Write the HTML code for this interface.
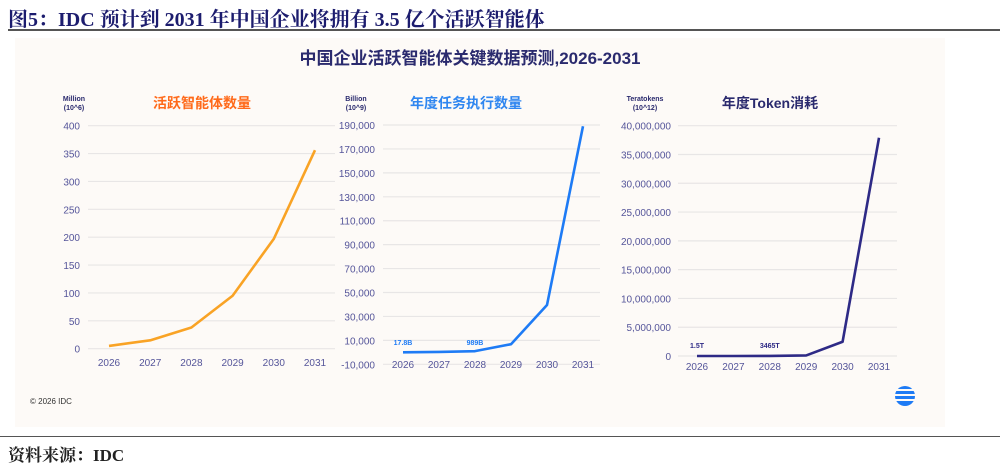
<!DOCTYPE html>
<html><head><meta charset="utf-8"><style>
body{margin:0;width:1000px;height:463px;background:#fff;overflow:hidden;position:relative;font-family:"Liberation Sans","Noto Sans CJK SC",sans-serif}
</style></head><body>
<div style="position:absolute;left:8px;top:3px;font:bold 20px 'Liberation Serif','Noto Serif CJK SC',serif;color:#1c1c6e;white-space:nowrap">图5：IDC 预计到 2031 年中国企业将拥有 3.5 亿个活跃智能体</div>
<div style="position:absolute;left:8px;top:29px;width:992px;height:2px;background:#555"></div>
<div style="position:absolute;left:15px;top:38px;width:930px;height:389px;background:#fdfaf7"></div>
<div style="position:absolute;left:0;top:436px;width:1000px;height:1px;background:#555"></div>
<div style="position:absolute;left:8px;top:441px;font:bold 17px 'Liberation Serif','Noto Serif CJK SC',serif;color:#222">资料来源：IDC</div>
<svg id="svg" width="1000" height="463" style="position:absolute;left:0;top:0" font-family="Liberation Sans, Noto Sans CJK SC, sans-serif">
<text x="470" y="64" text-anchor="middle" font-size="17" font-weight="bold" fill="#2a2a6e">中国企业活跃智能体关键数据预测,2026-2031</text>
<text x="30" y="404" font-size="8" fill="#333">© 2026 IDC</text>
<g>
<circle cx="905" cy="396" r="10" fill="#1e7bf5"/>
<rect x="894" y="389" width="22" height="2" fill="#fdfaf7"/><rect x="894" y="394" width="22" height="2" fill="#fdfaf7"/><rect x="894" y="399" width="22" height="2" fill="#fdfaf7"/>
</g>
</svg>
<script>
const years=['2026','2027','2028','2029','2030','2031'];
const agents=[5,15,38,95,197,356];
const agentTicks=[0,50,100,150,200,250,300,350,400];
const tasks=[17.8,300,989,6800,39600,189000];
const taskTicks=[-10000,10000,30000,50000,70000,90000,110000,130000,150000,170000,190000];
const tokens=[1.5,1000,3465,100000,2480000,37900000];
const tokenTicks=[0,5000000,10000000,15000000,20000000,25000000,30000000,35000000,40000000];
const svg=document.getElementById('svg');
const NS='http://www.w3.org/2000/svg';
function mk(t,a,p){const e=document.createElementNS(NS,t);for(const k in a)e.setAttribute(k,a[k]);(p||svg).appendChild(e);return e;}
function fmt(v){return v.toLocaleString('en-US');}
function chart(cfg){
 const g=mk('g',{});
 
 
 const y=v=>cfg.y0-(v-cfg.vmin)/(cfg.vmax-cfg.vmin)*(cfg.y0-cfg.y1);
 const x=i=>cfg.x0+i*(cfg.x1-cfg.x0)/(years.length-1);
 cfg.ticks.forEach(t=>{
  const l=mk('line',{x1:cfg.gx0,x2:cfg.gx1,y1:y(t),y2:y(t),stroke:'#e8e6e6','stroke-width':1.2},g);
  
  
  const tx=mk('text',{x:cfg.lx,y:y(t)+4,'text-anchor':'end','font-size':10,fill:'#55559a'},g);
  tx.textContent=fmt(t);
  
  
 });
 years.forEach((yr,i)=>{
  const tx=mk('text',{x:x(i),y:cfg.xy,'text-anchor':'middle','font-size':10,fill:'#55559a'},g);
  tx.textContent=yr;
  
  
 });
 const p=mk('polyline',{points:cfg.data.map((v,i)=>x(i)+','+y(v)).join(' '),fill:'none',stroke:cfg.color,'stroke-width':2.6,'stroke-linejoin':'round'},g);
 
 
 const u=mk('text',{x:cfg.ux,y:101,'text-anchor':'middle','font-size':7,'font-weight':'bold',fill:'#2a2a6e'},g);
 u.textContent=cfg.unit1;
 
 
 const u2=mk('text',{x:cfg.ux,y:110,'text-anchor':'middle','font-size':7,'font-weight':'bold',fill:'#2a2a6e'},g);
 u2.textContent=cfg.unit2;
 
 
 const tt=mk('text',{x:cfg.tx,y:108,'text-anchor':'middle','font-size':14,'font-weight':'bold',fill:cfg.tcolor},g);
 tt.textContent=cfg.title;
 
 
 (cfg.notes||[]).forEach(n=>{
  const a=mk('text',{x:x(n[0]),y:cfg.ny,'text-anchor':'middle','font-size':7,'font-weight':'bold',fill:cfg.color},g);
  a.textContent=n[1];
  
  
 });
}
chart({name:'active-agents-chart',data:agents,ticks:agentTicks,vmin:0,vmax:400,y0:348.7,y1:125.7,x0:109,x1:315,gx0:88,gx1:335,lx:80,xy:366,color:'#f9a325',tcolor:'#ff6a1a',title:'活跃智能体数量',ux:74,unit1:'Million',unit2:'(10^6)',tx:202});
chart({name:'annual-tasks-chart',data:tasks,ticks:taskTicks,vmin:-10000,vmax:190000,y0:364.3,y1:125,x0:403,x1:583,gx0:383,gx1:600,lx:375,xy:368,color:'#1e7bf5',tcolor:'#2f86f0',title:'年度任务执行数量',ux:356,unit1:'Billion',unit2:'(10^9)',tx:466,ny:345,notes:[[0,'17.8B'],[2,'989B']]});
chart({name:'token-consumption-chart',data:tokens,ticks:tokenTicks,vmin:0,vmax:40000000,y0:356,y1:125.7,x0:697,x1:879,gx0:678,gx1:897,lx:671,xy:370,color:'#2e2a86',tcolor:'#2a2a6e',title:'年度Token消耗',ux:645,unit1:'Teratokens',unit2:'(10^12)',tx:770,ny:348,notes:[[0,'1.5T'],[2,'3465T']]});
</script>
</body></html>
